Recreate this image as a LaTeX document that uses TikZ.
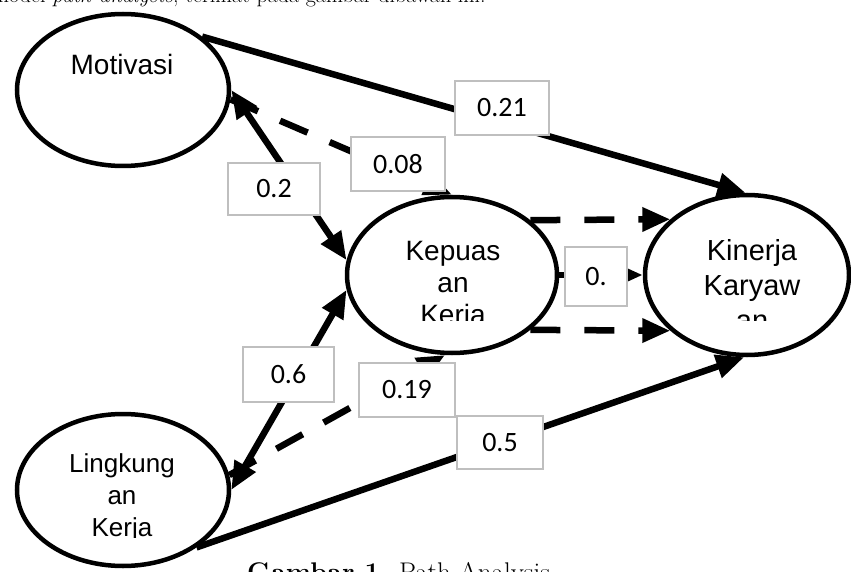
\documentclass[tikz,border=0pt]{standalone}
\usepackage{fontspec}
\usepackage{tikz}
\usetikzlibrary{shapes,calc,positioning,arrows.meta}
\newfontfamily\arialfont{Liberation Sans}
\newfontfamily\calibrifont{Carlito}

\begin{document}
\begin{tikzpicture}[x=1pt,y=-1pt,
  var/.style={ellipse,draw,fill=white,line width=4.5pt,inner sep=0pt},
  vartext/.style={align=center,anchor=base,inner sep=0pt},
  coef/.style={draw=black!25,line width=1.2pt,fill=white,minimum height=54pt,inner sep=0pt,
    font=\calibrifont\fontsize{28}{32}\selectfont},
  direct/.style={line width=6.5pt,-{Triangle[length=28pt,width=23pt]}},
  twoway/.style={line width=6.5pt,{Triangle[length=28pt,width=23pt]}-{Triangle[length=28pt,width=23pt]}},
  indirect/.style={direct,dash pattern=on 30pt off 24pt}]
\useasboundingbox (0,0) rectangle (851,572);
\clip (0,0) rectangle (851,572);

% text around the figure (cut by the page)
\node[anchor=base west,inner sep=0pt,font=\fontsize{22}{26}\selectfont] (intro) at (-8,2.5)
  {model \textit{path analysis}, terlihat pada gambar dibawah ini.};
\node[anchor=base west,inner sep=0pt,font=\fontsize{27}{30}\selectfont] (caption) at (247,581)
  {\textbf{Gambar 1.} Path Analysis};

% variables
\node[var,minimum width=212pt,minimum height=152pt] (mot) at (123,90) {};
\node[var,minimum width=210pt,minimum height=156pt] (kep) at (452,275) {};
\node[var,minimum width=204pt,minimum height=160pt] (kin) at (747,275) {};
\node[var,minimum width=212pt,minimum height=152pt] (ling) at (123,490) {};

% labels (base = last line)
\node[vartext,font=\arialfont\fontsize{28}{32}\selectfont] (motT) at (122,75) {Motivasi};
\begin{scope}
\clip (340,200) rectangle (570,320);
\node[vartext,font=\arialfont\fontsize{28}{32}\selectfont] (kepT) at (453,324) {Kepuas\\an\\Kerja};
\end{scope}
\begin{scope}
\clip (640,200) rectangle (851,320);
\node[vartext,font=\arialfont\fontsize{29}{35}\selectfont] (kinT) at (752,330) {Kinerja\\Karyaw\\an};
\end{scope}
\begin{scope}
\clip (10,420) rectangle (235,537);
\node[vartext,font=\arialfont\fontsize{26}{32}\selectfont] (lingT) at (122,536) {Lingkung\\an\\Kerja};
\end{scope}

% paths
\draw[indirect] (mot.-5) -- (kep.north);
\draw[twoway] (mot.0) -- (kep.172);
\draw[twoway] (ling.0) -- (kep.188);
\draw[indirect] (ling.8) -- (kep.265);
\draw[direct] (mot.34) -- (kin.91);
\draw[direct] (ling.-38) -- (kin.268);
\draw[indirect] (kep.35) -- (kin.144);
\draw[indirect] (kep.-35) -- (kin.-144);
\draw[direct] (kep.east) -- (kin.west);

% coefficients
\node[coef,minimum width=94pt] (c1) at (502,108) {0.21};
\node[coef,minimum width=94pt] (c2) at (398,164) {0.08};
\node[coef,minimum width=92pt,minimum height=52pt] (c3) at (274,189) {0.2};
\node[coef,minimum width=91pt,minimum height=55pt] (c4) at (288.5,374.5) {0.6};
\node[coef,minimum width=96pt] (c5) at (407,390) {0.19};
\node[coef,minimum width=86pt,minimum height=53pt] (c6) at (500,442.5) {0.5};
\node[coef,minimum width=62pt,minimum height=59pt] (c7) at (596,276.5) {0.};
\end{tikzpicture}
\end{document}
